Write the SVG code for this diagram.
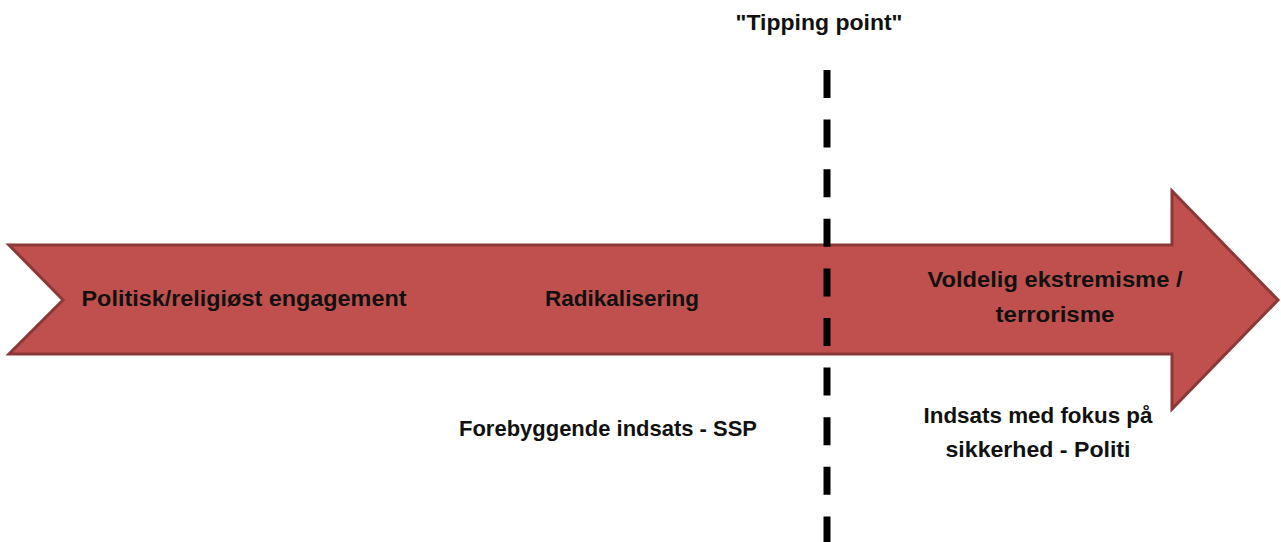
<svg xmlns="http://www.w3.org/2000/svg" width="1281" height="542" viewBox="0 0 1281 542">
<style>
.lbl{font-family:"Liberation Sans",Arial,sans-serif;font-weight:bold;font-size:21.5px;fill:#111;text-anchor:middle}
</style>
<rect width="1281" height="542" fill="#ffffff"/>
<g id="arrow">
<polygon points="9,245 1172,245 1172,191 1278,300 1172,409 1172,354 9,354 63,300" fill="#C0504D" stroke="#8C3836" stroke-width="3" stroke-linejoin="miter"/>
</g>
<g id="connectors">
<line x1="827" y1="70" x2="827" y2="542" stroke="#000" stroke-width="7" stroke-dasharray="28 21.6"/>
</g>
<g id="n-tipping"><text class="lbl" x="819" y="30" textLength="167" lengthAdjust="spacingAndGlyphs">"Tipping point"</text></g>
<g id="n-engagement"><text class="lbl" x="244" y="305.5" textLength="325" lengthAdjust="spacingAndGlyphs">Politisk/religiøst engagement</text></g>
<g id="n-radikalisering"><text class="lbl" x="622" y="305.5" textLength="154" lengthAdjust="spacingAndGlyphs">Radikalisering</text></g>
<g id="n-voldelig"><text class="lbl" x="1055" y="287" textLength="255" lengthAdjust="spacingAndGlyphs">Voldelig ekstremisme /</text><text class="lbl" x="1055" y="322" textLength="119" lengthAdjust="spacingAndGlyphs">terrorisme</text></g>
<g id="n-forebyggende"><text class="lbl" x="608" y="436" textLength="298" lengthAdjust="spacingAndGlyphs">Forebyggende indsats - SSP</text></g>
<g id="n-indsats"><text class="lbl" x="1038" y="423" textLength="229" lengthAdjust="spacingAndGlyphs">Indsats med fokus på</text><text class="lbl" x="1038" y="457" textLength="185" lengthAdjust="spacingAndGlyphs">sikkerhed - Politi</text></g>
</svg>
